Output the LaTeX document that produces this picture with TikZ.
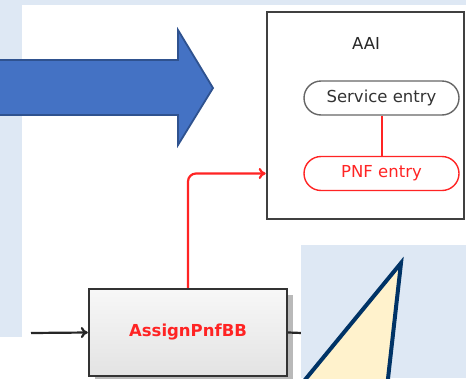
\documentclass[tikz,border=0pt]{standalone}
\usepackage{fontspec}
\setmainfont{DejaVu Sans}
\usetikzlibrary{shadows,arrows.meta}

\definecolor{bgblue}{HTML}{DEE8F4}
\definecolor{arrowblue}{HTML}{4472C4}
\definecolor{arrowedge}{HTML}{2F528F}
\definecolor{notefill}{HTML}{FFF2CC}
\definecolor{noteedge}{HTML}{003366}
\definecolor{aaired}{HTML}{FF2424}

\tikzset{
  entry/.style={rounded corners=17pt, minimum width=155pt, minimum height=34pt,
    line width=1.4pt, font=\fontsize{16.5}{19}\selectfont},
  taskbox/.style={draw=black!80, line width=2.4pt, minimum width=198pt,
    minimum height=87pt, top color=gray!6, bottom color=gray!22,
    drop shadow={shadow xshift=6pt, shadow yshift=-6pt, fill=gray!55, opacity=1},
    font=\bfseries\fontsize{16.5}{19}\selectfont, text=aaired},
  flow/.style={line width=2.2pt, -{To[length=7pt,width=11pt]}}
}

\begin{document}
\begin{tikzpicture}[x=1pt,y=-1pt]
  \clip (0,0) rectangle (466,378);
  \fill[white] (0,0) rectangle (466,378);
  \fill[bgblue] (0,0) rectangle (22,337);
  \fill[bgblue] (0,0) rectangle (466,5);

  % AAI side
  \node[draw=black!75, line width=2.6pt, minimum width=197pt, minimum height=207pt,
    inner sep=0pt] (aai) at (365.5,115.5) {};
  \node[font=\fontsize{16.5}{19}\selectfont, text=black!85] (aailabel) at (366,43) {AAI};
  \node[entry, draw=gray!80!black, text=black!80] (service) at (381.5,98) {Service entry};
  \node[entry, draw=aaired, text=aaired] (pnf) at (381.5,173.5) {PNF entry};
  \draw[aaired, line width=2pt] (service) -- (pnf);

  % building block
  \node[taskbox] (assign) at (188,332.5) {AssignPnfBB};
  \coordinate (in) at (31,333);
  \coordinate (out) at (302,333);
  \draw[black!85, flow] (in) -- (assign.west);
  \draw[black!85, line width=2.2pt] (assign.east) -- (out);
  \draw[aaired, flow, rounded corners=8pt]
    (assign.north) |- (aai.west |- pnf.center);

  % big arrow and callout
  \draw[arrowedge, fill=arrowblue, line width=1.8pt]
    (-3,60) -- (178,60) -- (178,30) -- (213,88) -- (178,145) -- (178,115) -- (-3,115) -- cycle;
  \fill[bgblue] (301,245) rectangle (466,378);
  \draw[noteedge, fill=notefill, line width=4pt, line join=miter]
    (401,263) -- (386.5,392) -- (295,392) -- cycle;
\end{tikzpicture}
\end{document}
